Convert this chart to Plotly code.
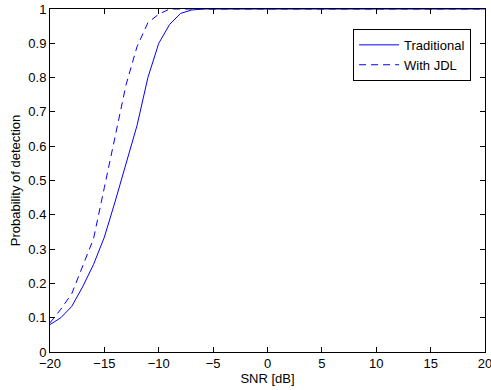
import plotly.graph_objects as go

snr = list(range(-20, 21))
traditional = [0.08, 0.10, 0.133, 0.19, 0.255, 0.335, 0.44, 0.55, 0.66, 0.80, 0.90, 0.955, 0.987, 0.997, 1.0,
               1.0, 1.0, 1.0, 1.0, 1.0, 1.0, 1.0, 1.0, 1.0, 1.0, 1.0, 1.0, 1.0, 1.0, 1.0,
               1.0, 1.0, 1.0, 1.0, 1.0, 1.0, 1.0, 1.0, 1.0, 1.0, 1.0]
jdl = [0.085, 0.125, 0.17, 0.25, 0.33, 0.48, 0.63, 0.78, 0.89, 0.96, 0.985, 1.0, 1.0, 1.0, 1.0,
       1.0, 1.0, 1.0, 1.0, 1.0, 1.0, 1.0, 1.0, 1.0, 1.0, 1.0, 1.0, 1.0, 1.0, 1.0,
       1.0, 1.0, 1.0, 1.0, 1.0, 1.0, 1.0, 1.0, 1.0, 1.0, 1.0]

x_ticks = [-20, -15, -10, -5, 0, 5, 10, 15, 20]
y_ticks = [0, 0.1, 0.2, 0.3, 0.4, 0.5, 0.6, 0.7, 0.8, 0.9, 1]
y_ticktext = ["0", "0.1", "0.2", "0.3", "0.4", "0.5", "0.6", "0.7", "0.8", "0.9", "1"]

fig = go.Figure()
fig.add_trace(go.Scatter(x=snr, y=traditional, mode="lines", name="Traditional",
                         line=dict(color="#0000ff", width=1)))
fig.add_trace(go.Scatter(x=snr, y=jdl, mode="lines", name="With JDL",
                         line=dict(color="#0000ff", width=1, dash="7px,5px")))

axis_common = dict(showline=True, linecolor="black", linewidth=1, mirror="ticks",
                   ticks="inside", ticklen=5, tickcolor="black", showgrid=False,
                   zeroline=False, automargin=False, ticklabeloverflow="allow",
                   tickfont=dict(size=13, color="black"))

fig.update_layout(
    width=491, height=390,
    margin=dict(l=50, r=6, t=9, b=38),
    paper_bgcolor="white", plot_bgcolor="white",
    font=dict(family="Liberation Sans, Arial, sans-serif", size=13, color="black"),
    xaxis=dict(range=[-20, 20], tickvals=x_ticks, ticklabelstandoff=-1,
               title=dict(text="SNR [dB]", standoff=0, font=dict(size=13)), **axis_common),
    yaxis=dict(range=[0, 1], tickvals=y_ticks, ticktext=y_ticktext,
               title=dict(text="Probability of detection", standoff=4, font=dict(size=13)), **axis_common),
    legend=dict(x=0.968, y=0.942, xanchor="right", yanchor="top",
                bordercolor="black", borderwidth=1, bgcolor="white",
                font=dict(size=13), tracegroupgap=0, itemwidth=40),
    showlegend=True,
)

fig.write_html("out.html", config={"displayModeBar": False},
               post_script="document.body.style.margin='0';document.body.style.overflow='hidden';")
